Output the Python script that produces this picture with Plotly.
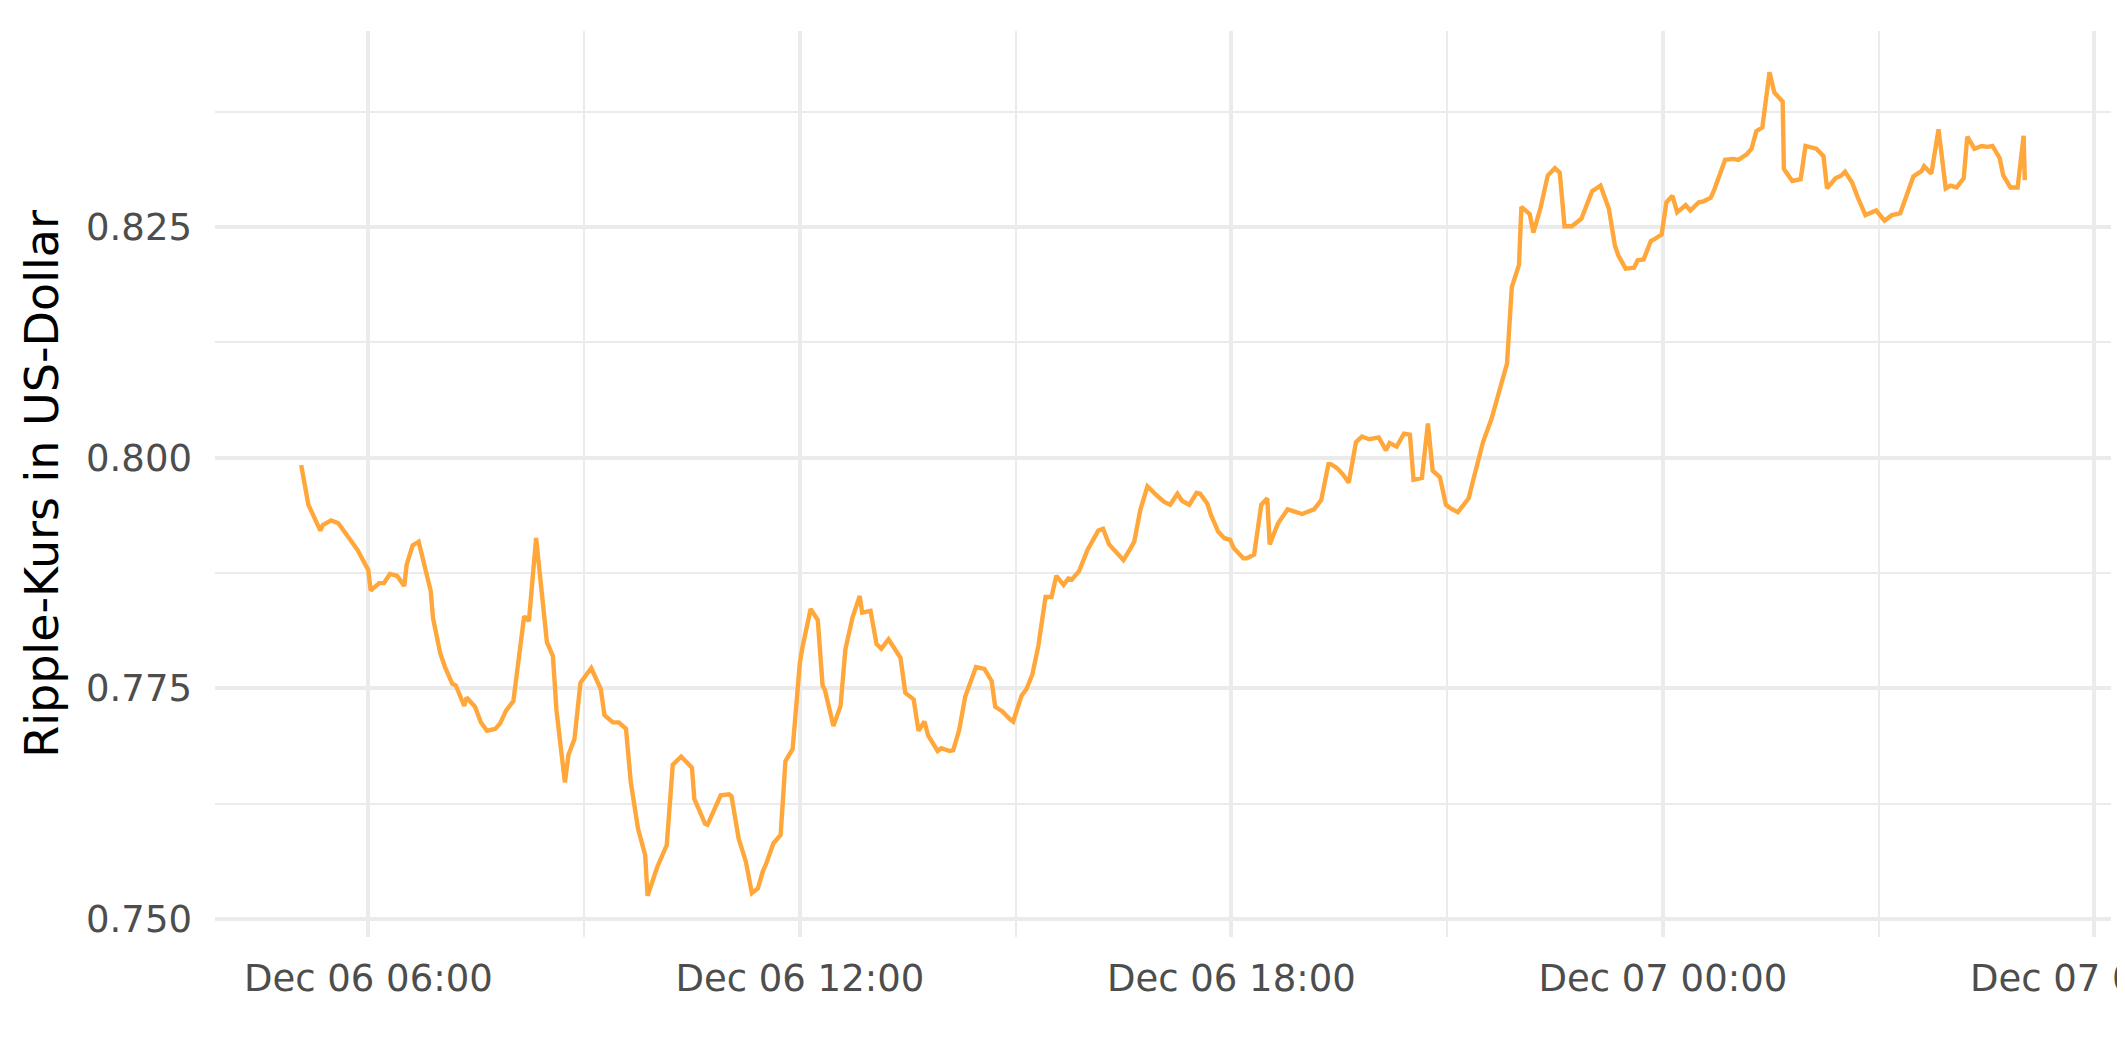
import pandas as pd
import plotly.graph_objects as go

# Ripple (XRP) price, 6-7 Dec
times = [
    "2021-12-06 05:04", "2021-12-06 05:10", "2021-12-06 05:20", "2021-12-06 05:22", "2021-12-06 05:29",
    "2021-12-06 05:35", "2021-12-06 05:51", "2021-12-06 06:00", "2021-12-06 06:02", "2021-12-06 06:09",
    "2021-12-06 06:13", "2021-12-06 06:18", "2021-12-06 06:24", "2021-12-06 06:30", "2021-12-06 06:32",
    "2021-12-06 06:37", "2021-12-06 06:42", "2021-12-06 06:52", "2021-12-06 06:54", "2021-12-06 07:00",
    "2021-12-06 07:04", "2021-12-06 07:10", "2021-12-06 07:13", "2021-12-06 07:20", "2021-12-06 07:22",
    "2021-12-06 07:29", "2021-12-06 07:34", "2021-12-06 07:39", "2021-12-06 07:46", "2021-12-06 07:50",
    "2021-12-06 07:55", "2021-12-06 08:01", "2021-12-06 08:10", "2021-12-06 08:14", "2021-12-06 08:20",
    "2021-12-06 08:29", "2021-12-06 08:34", "2021-12-06 08:37", "2021-12-06 08:44", "2021-12-06 08:47",
    "2021-12-06 08:52", "2021-12-06 08:57", "2021-12-06 09:06", "2021-12-06 09:14", "2021-12-06 09:17",
    "2021-12-06 09:24", "2021-12-06 09:29", "2021-12-06 09:35", "2021-12-06 09:39", "2021-12-06 09:45",
    "2021-12-06 09:51", "2021-12-06 09:53", "2021-12-06 10:01", "2021-12-06 10:09", "2021-12-06 10:14",
    "2021-12-06 10:21", "2021-12-06 10:30", "2021-12-06 10:32", "2021-12-06 10:41", "2021-12-06 10:43",
    "2021-12-06 10:54", "2021-12-06 11:01", "2021-12-06 11:03", "2021-12-06 11:09", "2021-12-06 11:15",
    "2021-12-06 11:20", "2021-12-06 11:25", "2021-12-06 11:29", "2021-12-06 11:32", "2021-12-06 11:38",
    "2021-12-06 11:44", "2021-12-06 11:48", "2021-12-06 11:54", "2021-12-06 12:00", "2021-12-06 12:02",
    "2021-12-06 12:09", "2021-12-06 12:15", "2021-12-06 12:19", "2021-12-06 12:21", "2021-12-06 12:28",
    "2021-12-06 12:34", "2021-12-06 12:38", "2021-12-06 12:44", "2021-12-06 12:50", "2021-12-06 12:52",
    "2021-12-06 12:59", "2021-12-06 13:04", "2021-12-06 13:08", "2021-12-06 13:14", "2021-12-06 13:21",
    "2021-12-06 13:24", "2021-12-06 13:28", "2021-12-06 13:35", "2021-12-06 13:39", "2021-12-06 13:44",
    "2021-12-06 13:47", "2021-12-06 13:55", "2021-12-06 13:58", "2021-12-06 14:05", "2021-12-06 14:08",
    "2021-12-06 14:13", "2021-12-06 14:18", "2021-12-06 14:27", "2021-12-06 14:34", "2021-12-06 14:40",
    "2021-12-06 14:43", "2021-12-06 14:49", "2021-12-06 14:55", "2021-12-06 14:58", "2021-12-06 15:05",
    "2021-12-06 15:09", "2021-12-06 15:14", "2021-12-06 15:19", "2021-12-06 15:25", "2021-12-06 15:30",
    "2021-12-06 15:34", "2021-12-06 15:40", "2021-12-06 15:44", "2021-12-06 15:47", "2021-12-06 15:53",
    "2021-12-06 16:00", "2021-12-06 16:09", "2021-12-06 16:13", "2021-12-06 16:18", "2021-12-06 16:30",
    "2021-12-06 16:36", "2021-12-06 16:39", "2021-12-06 16:44", "2021-12-06 16:50", "2021-12-06 16:57",
    "2021-12-06 17:04", "2021-12-06 17:09", "2021-12-06 17:15", "2021-12-06 17:19", "2021-12-06 17:25",
    "2021-12-06 17:31", "2021-12-06 17:34", "2021-12-06 17:40", "2021-12-06 17:43", "2021-12-06 17:49",
    "2021-12-06 17:54", "2021-12-06 17:59", "2021-12-06 18:02", "2021-12-06 18:10", "2021-12-06 18:13",
    "2021-12-06 18:19", "2021-12-06 18:25", "2021-12-06 18:30", "2021-12-06 18:32", "2021-12-06 18:39",
    "2021-12-06 18:46", "2021-12-06 18:47", "2021-12-06 18:59", "2021-12-06 19:09", "2021-12-06 19:15",
    "2021-12-06 19:21", "2021-12-06 19:23", "2021-12-06 19:28", "2021-12-06 19:33", "2021-12-06 19:38",
    "2021-12-06 19:44", "2021-12-06 19:49", "2021-12-06 19:55", "2021-12-06 20:03", "2021-12-06 20:09",
    "2021-12-06 20:12", "2021-12-06 20:18", "2021-12-06 20:24", "2021-12-06 20:29", "2021-12-06 20:32",
    "2021-12-06 20:39", "2021-12-06 20:44", "2021-12-06 20:48", "2021-12-06 20:54", "2021-12-06 20:59",
    "2021-12-06 21:03", "2021-12-06 21:09", "2021-12-06 21:18", "2021-12-06 21:24", "2021-12-06 21:30",
    "2021-12-06 21:37", "2021-12-06 21:50", "2021-12-06 21:54", "2021-12-06 22:00", "2021-12-06 22:02",
    "2021-12-06 22:09", "2021-12-06 22:12", "2021-12-06 22:18", "2021-12-06 22:24", "2021-12-06 22:30",
    "2021-12-06 22:34", "2021-12-06 22:38", "2021-12-06 22:44", "2021-12-06 22:52", "2021-12-06 23:01",
    "2021-12-06 23:08", "2021-12-06 23:15", "2021-12-06 23:20", "2021-12-06 23:23", "2021-12-06 23:29",
    "2021-12-06 23:36", "2021-12-06 23:39", "2021-12-06 23:44", "2021-12-06 23:50", "2021-12-06 23:53",
    "2021-12-06 23:59", "2021-12-07 00:03", "2021-12-07 00:08", "2021-12-07 00:12", "2021-12-07 00:19",
    "2021-12-07 00:23", "2021-12-07 00:30", "2021-12-07 00:34", "2021-12-07 00:40", "2021-12-07 00:43",
    "2021-12-07 00:52", "2021-12-07 00:59", "2021-12-07 01:03", "2021-12-07 01:10", "2021-12-07 01:14",
    "2021-12-07 01:18", "2021-12-07 01:23", "2021-12-07 01:29", "2021-12-07 01:33", "2021-12-07 01:40",
    "2021-12-07 01:41", "2021-12-07 01:48", "2021-12-07 01:55", "2021-12-07 01:59", "2021-12-07 02:08",
    "2021-12-07 02:14", "2021-12-07 02:17", "2021-12-07 02:24", "2021-12-07 02:29", "2021-12-07 02:32",
    "2021-12-07 02:38", "2021-12-07 02:43", "2021-12-07 02:49", "2021-12-07 02:58", "2021-12-07 03:05",
    "2021-12-07 03:11", "2021-12-07 03:18", "2021-12-07 03:23", "2021-12-07 03:29", "2021-12-07 03:36",
    "2021-12-07 03:38", "2021-12-07 03:44", "2021-12-07 03:50", "2021-12-07 03:56", "2021-12-07 04:00",
    "2021-12-07 04:05", "2021-12-07 04:11", "2021-12-07 04:14", "2021-12-07 04:20", "2021-12-07 04:26",
    "2021-12-07 04:31", "2021-12-07 04:35", "2021-12-07 04:41", "2021-12-07 04:44", "2021-12-07 04:50",
    "2021-12-07 04:56", "2021-12-07 05:01", "2021-12-07 05:02",
]

prices = [
    0.7992, 0.7949, 0.7921, 0.7927, 0.7932,
    0.7929, 0.7900, 0.7878, 0.7856, 0.7864,
    0.7864, 0.7874, 0.7872, 0.7861, 0.7884,
    0.7905, 0.7909, 0.7856, 0.7826, 0.7788,
    0.7773, 0.7755, 0.7753, 0.7731, 0.7740,
    0.7730, 0.7713, 0.7704, 0.7706, 0.7712,
    0.7726, 0.7736, 0.7828, 0.7823, 0.7913,
    0.7800, 0.7785, 0.7726, 0.7648, 0.7678,
    0.7695, 0.7756, 0.7772, 0.7749, 0.7721,
    0.7713, 0.7713, 0.7706, 0.7648, 0.7598,
    0.7569, 0.7525, 0.7556, 0.7580, 0.7667,
    0.7676, 0.7664, 0.7630, 0.7603, 0.7602,
    0.7634, 0.7635, 0.7633, 0.7587, 0.7562,
    0.7528, 0.7533, 0.7551, 0.7560, 0.7582,
    0.7591, 0.7671, 0.7684, 0.7777, 0.7793,
    0.7836, 0.7824, 0.7753, 0.7748, 0.7709,
    0.7731, 0.7792, 0.7827, 0.7850, 0.7832,
    0.7834, 0.7798, 0.7793, 0.7803, 0.7790,
    0.7783, 0.7745, 0.7738, 0.7704, 0.7714,
    0.7699, 0.7682, 0.7685, 0.7682, 0.7683,
    0.7705, 0.7741, 0.7773, 0.7771, 0.7758,
    0.7730, 0.7725, 0.7717, 0.7714, 0.7742,
    0.7749, 0.7765, 0.7796, 0.7849, 0.7849,
    0.7872, 0.7862, 0.7869, 0.7868, 0.7877,
    0.7900, 0.7921, 0.7923, 0.7906, 0.7889,
    0.7902, 0.7909, 0.7943, 0.7969, 0.7960,
    0.7952, 0.7949, 0.7961, 0.7953, 0.7949,
    0.7962, 0.7961, 0.7950, 0.7938, 0.7920,
    0.7913, 0.7911, 0.7902, 0.7891, 0.7891,
    0.7895, 0.7949, 0.7956, 0.7906, 0.7929,
    0.7944, 0.7944, 0.7939, 0.7944, 0.7954,
    0.7993, 0.7993, 0.7989, 0.7982, 0.7973,
    0.8017, 0.8023, 0.8020, 0.8022, 0.8008,
    0.8016, 0.8012, 0.8026, 0.8025, 0.7976,
    0.7978, 0.8037, 0.7986, 0.7979, 0.7949,
    0.7945, 0.7941, 0.7956, 0.7987, 0.8017,
    0.8042, 0.8102, 0.8185, 0.8209, 0.8272,
    0.8264, 0.8244, 0.8271, 0.8306, 0.8314,
    0.8309, 0.8251, 0.8251, 0.8259, 0.8289,
    0.8295, 0.8270, 0.8230, 0.8219, 0.8205,
    0.8206, 0.8214, 0.8215, 0.8235, 0.8237,
    0.8242, 0.8277, 0.8284, 0.8266, 0.8274,
    0.8268, 0.8277, 0.8278, 0.8282, 0.8291,
    0.8323, 0.8324, 0.8323, 0.8329, 0.8335,
    0.8354, 0.8358, 0.8418, 0.8396, 0.8386,
    0.8313, 0.8300, 0.8302, 0.8338, 0.8335,
    0.8327, 0.8292, 0.8303, 0.8306, 0.8310,
    0.8298, 0.8281, 0.8263, 0.8268, 0.8257,
    0.8263, 0.8265, 0.8283, 0.8305, 0.8311,
    0.8316, 0.8308, 0.8356, 0.8292, 0.8295,
    0.8293, 0.8303, 0.8348, 0.8335, 0.8338,
    0.8337, 0.8338, 0.8325, 0.8306, 0.8293,
    0.8293, 0.8349, 0.8301,
]

y_ticks = [0.750, 0.775, 0.800, 0.825]

FONT = "DejaVu Sans"
GRID = "#EBEBEB"
LINE_COLOR = "#FFA73A"

t = pd.to_datetime(times)
price = pd.Series(prices)

# ggplot-style 5% expansion on both axes
t_pad = (t.max() - t.min()) * 0.05
y_pad = (price.max() - price.min()) * 0.05
x_range = [t.min() - t_pad, t.max() + t_pad]
y_range = [price.min() - y_pad, price.max() + y_pad]

fig = go.Figure()

fig.add_trace(go.Scatter(
    x=t,
    y=prices,
    mode="lines",
    line=dict(color=LINE_COLOR, width=4.4),
    showlegend=False,
))

fig.update_xaxes(
    range=x_range,
    type="date",
    tick0="2021-12-06 00:00",
    dtick=6 * 3600 * 1000,
    tickformat="%b %d %H:%M",
    showgrid=True,
    gridcolor=GRID,
    gridwidth=4,
    minor=dict(dtick=3 * 3600 * 1000, showgrid=True, gridcolor=GRID, gridwidth=2),
    zeroline=False,
    showline=False,
    ticks="",
    ticklabelstandoff=16,
    ticklabeloverflow="allow",
    tickfont=dict(family=FONT, size=37, color="#4D4D4D"),
)

fig.update_yaxes(
    range=y_range,
    tickvals=y_ticks,
    tickformat=".3f",
    showgrid=True,
    gridcolor=GRID,
    gridwidth=4,
    minor=dict(dtick=0.0125, showgrid=True, gridcolor=GRID, gridwidth=2),
    zeroline=False,
    showline=False,
    ticks="",
    ticklabelstandoff=22,
    tickfont=dict(family=FONT, size=37, color="#4D4D4D"),
    title=dict(
        text="Ripple-Kurs in US-Dollar",
        font=dict(family=FONT, size=46, color="black"),
        standoff=12,
    ),
)

fig.update_layout(
    width=2125,
    height=1062,
    plot_bgcolor="white",
    paper_bgcolor="white",
    margin=dict(l=207, r=22, t=23, b=133, autoexpand=False),
)

fig.write_html("out.html")
